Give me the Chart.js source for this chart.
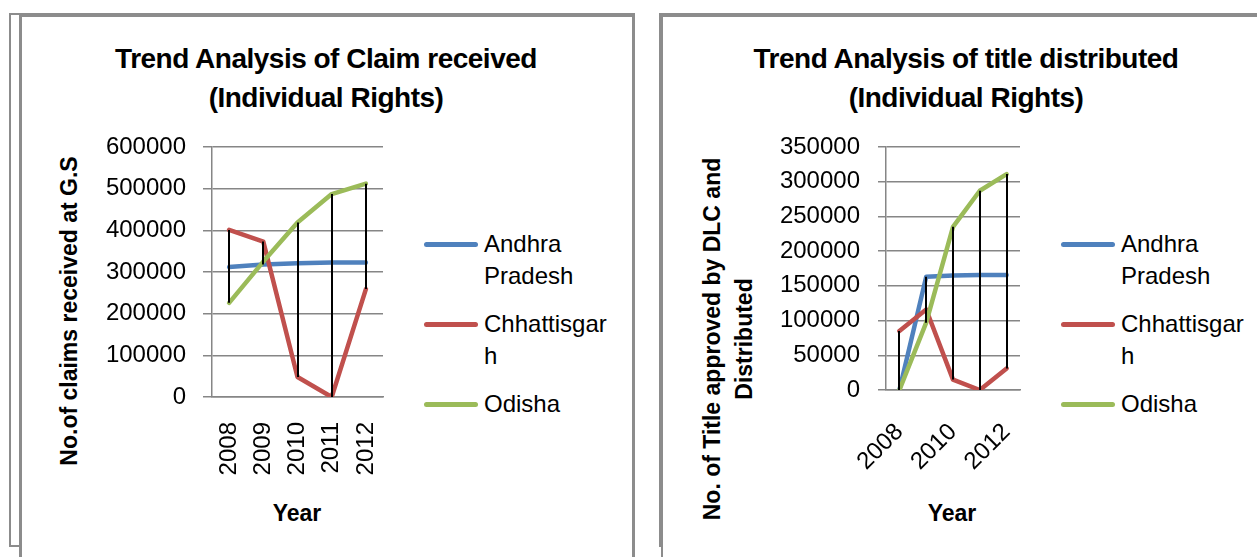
<!DOCTYPE html>
<html>
<head>
<meta charset="utf-8">
<script src="https://cdn.jsdelivr.net/npm/chart.js@4/dist/chart.umd.min.js"></script>
<style>
  html, body { margin: 0; padding: 0; background: #fff; }
  body { width: 1257px; height: 557px; position: relative; overflow: hidden; font-family: "Liberation Sans", Arial, sans-serif; color: #000; }
  .abs { position: absolute; }
  .frame { position: absolute; box-sizing: border-box; border-color: #8c8c8c; border-style: solid; }
  .title { position: absolute; font-weight: bold; font-size: 28px; letter-spacing: -0.5px; line-height: 39px; text-align: center; white-space: nowrap; }
  .ytitle { position: absolute; font-weight: bold; font-size: 23px; line-height: 32px; text-align: center; transform: rotate(-90deg); transform-origin: center center; }
  .xtitle { position: absolute; font-weight: bold; font-size: 23px; line-height: 26px; text-align: center; width: 120px; }
  .legend { position: absolute; font-size: 24px; line-height: 32px; }
  .legend .item { position: relative; margin-bottom: 16px; }
  .legend .swatch { position: absolute; height: 5px; border-radius: 3px; }
  .legend .txt { overflow-wrap: anywhere; }
  canvas { position: absolute; top: 0; }
</style>
</head>
<body>
<!-- frames -->
<div class="frame" style="left:9px;top:13px;width:626px;height:534px;border-width:2px;"></div>
<div class="frame" style="left:19px;top:15px;width:616px;height:600px;border-width:2px 3px 0 3px;background:#fff;"></div>
<div class="frame" style="left:659px;top:13px;width:700px;height:534px;border-width:2px;"></div>
<div class="frame" style="left:661px;top:15px;width:700px;height:600px;border-width:2px 0 0 2px;background:#fff;"></div>

<div id="t1" class="title" style="left:26px;width:600px;top:39px;"></div>
<div id="t2" class="title" style="left:666px;width:600px;top:39px;"></div>

<div id="yt1" class="ytitle" style="left:-131px;top:295px;width:400px;"></div>
<div id="yt2" class="ytitle" style="left:538px;top:307px;width:380px;"></div>

<div id="xt1" class="xtitle" style="left:237px;top:500px;"></div>
<div id="xt2" class="xtitle" style="left:892px;top:500px;"></div>

<div id="lg1" class="legend" style="left:424px;top:228px;width:190px;"></div>
<div id="lg2" class="legend" style="left:1061px;top:228px;width:196px;"></div>

<canvas id="c1" width="640" height="557" style="left:0px;"></canvas>
<canvas id="c2" width="617" height="557" style="left:640px;"></canvas>

<script>
// ---- data ----
const years = ['2008', '2009', '2010', '2011', '2012'];
const seriesNames = ['Andhra Pradesh', 'Chhattisgarh', 'Odisha'];
const seriesColors = ['#4F81BD', '#C0504D', '#9BBB59'];

// Chart 1: claims received (Individual Rights)
const claimsAndhra       = [312000, 318000, 321000, 323000, 323000];
const claimsChhattisgarh = [401000, 373000,  48000,      0, 259000];
const claimsOdisha       = [226000, 325000, 419000, 487000, 512000];
const claimsTicks = { min: 0, max: 600000, step: 100000 };

// Chart 2: titles distributed (Individual Rights)
const titlesAndhra       = [     0, 163000, 165000, 165500, 165500];
const titlesChhattisgarh = [ 85000, 116000,  15000,      0,  31000];
const titlesOdisha       = [     0,  97000, 235000, 287000, 311000];
const titlesTicks = { min: 0, max: 350000, step: 50000 };

const chart1Title = ['Trend Analysis of Claim received', '(Individual Rights)'];
const chart2Title = ['Trend Analysis of title distributed', '(Individual Rights)'];
const chart1YTitle = 'No.of claims received at G.S';
const chart2YTitle = 'No. of Title approved by DLC and Distributed';
const xTitle = 'Year';

// ---- text elements ----
document.getElementById('t1').innerHTML = chart1Title.join('<br>');
document.getElementById('t2').innerHTML = chart2Title.join('<br>');
document.getElementById('yt1').textContent = chart1YTitle;
document.getElementById('yt2').textContent = chart2YTitle;
document.getElementById('xt1').textContent = xTitle;
document.getElementById('xt2').textContent = xTitle;

function buildLegend(id, txtWidth) {
  const el = document.getElementById(id);
  seriesNames.forEach((n, i) => {
    const item = document.createElement('div');
    item.className = 'item';
    const sw = document.createElement('div');
    sw.className = 'swatch';
    sw.style.cssText = 'left:0;top:14px;width:54px;background:' + seriesColors[i] + ';';
    const t = document.createElement('div');
    t.className = 'txt';
    t.style.cssText = 'margin-left:60px;width:' + txtWidth + 'px;';
    t.textContent = n;
    item.appendChild(sw); item.appendChild(t);
    el.appendChild(item);
  });
}
buildLegend('lg1', 128);
buildLegend('lg2', 128);

// ---- high-low lines plugin ----
const hiLoPlugin = {
  id: 'hiLo',
  afterDatasetsDraw(chart) {
    const ctx = chart.ctx;
    const xs = chart.scales.x, ys = chart.scales.y;
    const ds = chart.data.datasets;
    ctx.save();
    ctx.strokeStyle = '#000';
    ctx.lineWidth = 2;
    chart.data.labels.forEach((lab, i) => {
      const vals = ds.map(d => d.data[i]);
      const hi = Math.max(...vals), lo = Math.min(...vals);
      const x = Math.round(xs.getPixelForValue(i));
      ctx.beginPath();
      ctx.moveTo(x, ys.getPixelForValue(hi));
      ctx.lineTo(x, ys.getPixelForValue(lo));
      ctx.stroke();
    });
    ctx.restore();
  }
};

const FONT = { family: '"Liberation Sans", Arial, sans-serif', size: 24 };
const GRID = '#868686';

function makeChart(id, data, ticks, area, xRot, xPad, yPad, tickLen, labelFilter) {
  const canvas = document.getElementById(id);
  const W = canvas.width, H = canvas.height;
  const datasets = data.map((d, i) => ({
    label: seriesNames[i],
    data: d,
    borderColor: seriesColors[i],
    backgroundColor: seriesColors[i],
    borderWidth: 4.5,
    pointRadius: 0,
    tension: 0,
    borderCapStyle: 'round',
    borderJoinStyle: 'round',
    order: 2 - i
  }));
  return new Chart(canvas, {
    type: 'line',
    data: { labels: years, datasets },
    plugins: [hiLoPlugin],
    options: {
      responsive: false,
      animation: false,
      devicePixelRatio: 1,
      layout: { autoPadding: false, padding: { left: 0, top: area.top, right: W - area.right, bottom: 0 } },
      plugins: { legend: { display: false }, tooltip: { enabled: false }, title: { display: false } },
      scales: {
        x: {
          type: 'category',
          offset: true,
          grid: { display: false, drawTicks: false, tickLength: 0 },
          border: { display: true, color: GRID, width: 1.5 },
          ticks: {
            autoSkip: false,
            minRotation: xRot, maxRotation: xRot,
            padding: xPad,
            color: '#000',
            font: FONT,
            callback: function (v, i) { return labelFilter(i) ? years[i] : ''; }
          },
          afterFit: s => { s.height = H - area.bottom; }
        },
        y: {
          min: ticks.min, max: ticks.max,
          grid: { color: GRID, lineWidth: 1.5, drawTicks: true, tickLength: tickLen },
          border: { display: true, color: GRID, width: 1.5 },
          ticks: {
            stepSize: ticks.step,
            padding: yPad,
            color: '#000',
            font: FONT,
            callback: v => String(v)
          },
          afterFit: s => { s.width = area.left; }
        }
      }
    }
  });
}

makeChart('c1', [claimsAndhra, claimsChhattisgarh, claimsOdisha], claimsTicks,
  { left: 212, right: 383, top: 147, bottom: 397 }, 90, 25, 17, 9, i => true);
makeChart('c2', [titlesAndhra, titlesChhattisgarh, titlesOdisha], titlesTicks,
  { left: 246, right: 380, top: 147, bottom: 390 }, 45, 28, 18, 8, i => i % 2 === 0);
</script>
</body>
</html>
